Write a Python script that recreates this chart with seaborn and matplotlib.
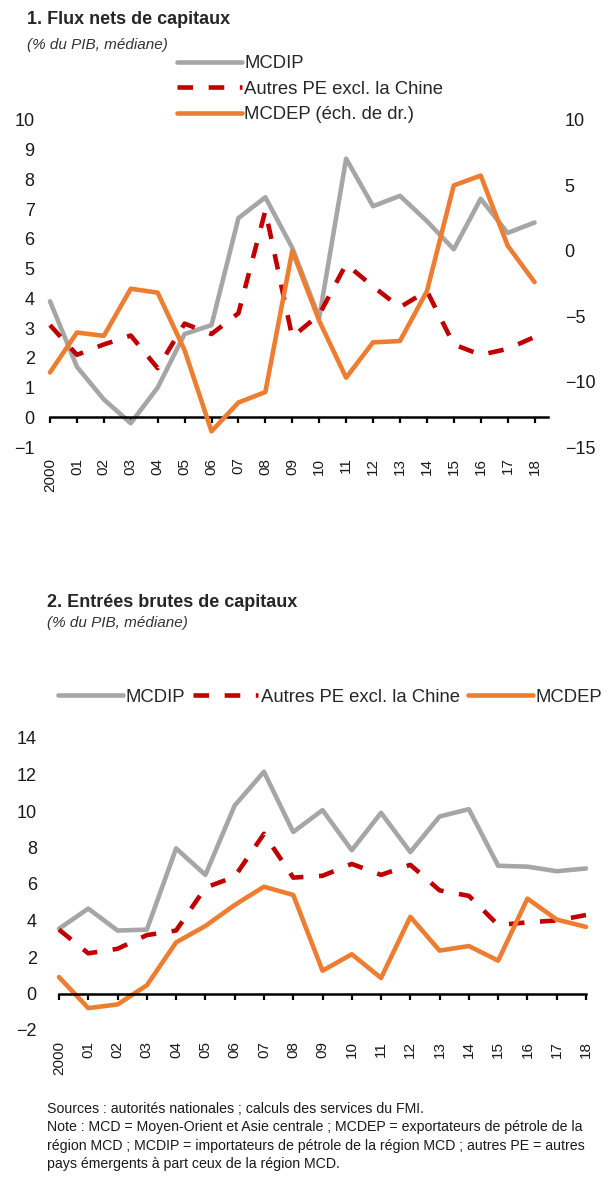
import matplotlib
matplotlib.use("Agg")
import matplotlib.pyplot as plt
import seaborn as sns
import pandas as pd

# --- données ---
years = ["2000", "01", "02", "03", "04", "05", "06", "07", "08", "09",
         "10", "11", "12", "13", "14", "15", "16", "17", "18"]

# 1. Flux nets de capitaux (% du PIB, médiane)
mcdip_net = [3.9, 1.7, 0.6, -0.2, 1.0, 2.8, 3.1, 6.7, 7.4, 5.7,
             3.35, 8.7, 7.1, 7.45, 6.6, 5.65, 7.35, 6.2, 6.55]
autres_net = [3.1, 2.1, 2.45, 2.75, 1.65, 3.15, 2.8, 3.5, 6.95, 2.7,
              3.45, 5.15, 4.4, 3.7, 4.25, 2.45, 2.1, 2.3, 2.7]
mcdep_net = [-9.3, -6.25, -6.5, -2.9, -3.2, -7.6, -13.8, -11.6, -10.8, 0.0,
             -5.35, -9.7, -7.0, -6.9, -3.1, 5.0, 5.75, 0.4, -2.4]

# 2. Entrées brutes de capitaux (% du PIB, médiane)
mcdip_gross = [3.55, 4.65, 3.45, 3.5, 7.95, 6.5, 10.3, 12.15, 8.85, 10.05,
               7.85, 9.9, 7.75, 9.7, 10.1, 7.0, 6.95, 6.7, 6.85]
autres_gross = [3.5, 2.2, 2.45, 3.2, 3.45, 5.8, 6.4, 8.75, 6.35, 6.45,
                7.1, 6.5, 7.05, 5.65, 5.35, 3.75, 3.9, 4.0, 4.3]
mcdep_gross = [0.9, -0.8, -0.6, 0.45, 2.8, 3.7, 4.85, 5.85, 5.4, 1.25,
               2.15, 0.85, 4.2, 2.35, 2.6, 1.8, 5.2, 4.05, 3.65]

left_ticks_1 = list(range(-1, 11))
right_ticks_1 = [-15, -10, -5, 0, 5, 10]
left_ticks_2 = list(range(-2, 15, 2))

GREY = "#A6A6A6"
RED = "#C00000"
ORANGE = "#ED7D31"
LW = 3.3
DASH = (0, (3.4, 3.4))

sns.set_theme(style="white")
plt.rcParams["font.family"] = ["Liberation Sans", "DejaVu Sans"]
plt.rcParams["axes.unicode_minus"] = True

W, H = 613, 1178
fig = plt.figure(figsize=(W / 100, H / 100), dpi=100)
fig.patch.set_facecolor("white")

df1 = pd.DataFrame({"x": range(len(years)), "mcdip": mcdip_net,
                    "autres": autres_net, "mcdep": mcdep_net})
df2 = pd.DataFrame({"x": range(len(years)), "mcdip": mcdip_gross,
                    "autres": autres_gross, "mcdep": mcdep_gross})


def px_rect(x0, x1, y_top, y_bot):
    return [x0 / W, 1 - y_bot / H, (x1 - x0) / W, (y_bot - y_top) / H]


def style_axis(ax, xlim, ylim, yticks, label_pad):
    ax.set_xlim(*xlim)
    ax.set_ylim(*ylim)
    ax.set_yticks(yticks)
    ax.set_xticks(range(len(years)))
    ax.set_xticklabels(years, fontsize=14)
    for s in ["top", "right", "left"]:
        ax.spines[s].set_visible(False)
    ax.spines["bottom"].set_position(("data", 0))
    ax.spines["bottom"].set_color("black")
    ax.spines["bottom"].set_linewidth(1.8)
    ax.tick_params(axis="x", bottom=True, direction="out", length=4, width=1.6,
                   color="black", pad=label_pad, labelcolor="#1a1a1a",
                   labelrotation=90)
    ax.tick_params(axis="y", left=False, length=0, labelsize=13,
                   labelcolor="#1a1a1a", pad=11)
    ax.set_xlabel("")
    ax.set_ylabel("")
    ax.grid(False)
    ax.patch.set_alpha(0)


# --- graphique 1 ---
ax1 = fig.add_axes(px_rect(50, 548, 120, 447))
sns.lineplot(data=df1, x="x", y="mcdip", ax=ax1, color=GREY, lw=LW,
             label="MCDIP", clip_on=False, legend=False)
sns.lineplot(data=df1, x="x", y="autres", ax=ax1, color=RED, lw=LW,
             linestyle=DASH, label="Autres PE excl. la Chine", clip_on=False, legend=False)
style_axis(ax1, (0, 18.5), (-1, 10), left_ticks_1, 25)

ax1b = ax1.twinx()
sns.lineplot(data=df1, x="x", y="mcdep", ax=ax1b, color=ORANGE, lw=LW,
             label="MCDEP (éch. de dr.)", clip_on=False, legend=False)
ax1b.set_ylim(-15, 10)
ax1b.set_yticks(right_ticks_1)
ax1b.set_ylabel("")
for s in ["top", "right", "left", "bottom"]:
    ax1b.spines[s].set_visible(False)
ax1b.tick_params(axis="y", right=False, length=0, labelsize=13,
                 labelcolor="#1a1a1a", pad=12)
ax1b.grid(False)

h1 = ax1.get_lines()[:2] + ax1b.get_lines()[:1]
fig.legend(h1, [l.get_label() for l in h1], loc="upper left",
           bbox_to_anchor=(177 / W, 1 - 55 / H), frameon=False, fontsize=13.3,
           handlelength=3.5, handletextpad=0.15, labelspacing=0.47,
           borderpad=0, borderaxespad=0)

fig.text(27 / W, 1 - 20 / H, "1. Flux nets de capitaux", fontsize=13,
         fontweight="bold", va="center", ha="left")
fig.text(27 / W, 1 - 45 / H, "(% du PIB, médiane)", fontsize=11,
         style="italic", va="center", ha="left", color="#333333")

# --- graphique 2 ---
ax2 = fig.add_axes(px_rect(59, 586, 738, 1030))
sns.lineplot(data=df2, x="x", y="mcdip", ax=ax2, color=GREY, lw=LW,
             label="MCDIP", clip_on=False, legend=False)
sns.lineplot(data=df2, x="x", y="autres", ax=ax2, color=RED, lw=LW,
             linestyle=DASH, label="Autres PE excl. la Chine", clip_on=False, legend=False)
sns.lineplot(data=df2, x="x", y="mcdep", ax=ax2, color=ORANGE, lw=LW,
             label="MCDEP", clip_on=False, legend=False)
style_axis(ax2, (0, 18), (-2, 14), left_ticks_2, 30)
ax2.tick_params(axis="y", pad=16)

h2 = ax2.get_lines()[:3]
fig.legend(h2, [l.get_label() for l in h2], loc="center left", ncol=3,
           bbox_to_anchor=(58 / W, 1 - 697 / H), frameon=False, fontsize=13.3,
           handlelength=3.5, handletextpad=0.15, columnspacing=0.45,
           borderpad=0, borderaxespad=0)

fig.text(47 / W, 1 - 602 / H, "2. Entrées brutes de capitaux", fontsize=13,
         fontweight="bold", va="center", ha="left")
fig.text(47 / W, 1 - 623 / H, "(% du PIB, médiane)", fontsize=11,
         style="italic", va="center", ha="left", color="#333333")

note = ("Sources : autorités nationales ; calculs des services du FMI.\n"
        "Note : MCD = Moyen-Orient et Asie centrale ; MCDEP = exportateurs de pétrole de la\n"
        "région MCD ; MCDIP = importateurs de pétrole de la région MCD ; autres PE = autres\n"
        "pays émergents à part ceux de la région MCD.")
fig.text(47 / W, 1 - 1102 / H, note, fontsize=10.2, va="top", ha="left",
         linespacing=1.4, color="#1a1a1a")

fig.savefig("out.png", dpi=100)
